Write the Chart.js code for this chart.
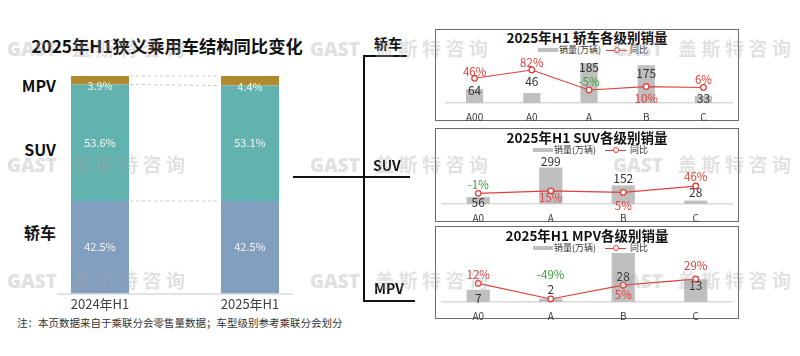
<!DOCTYPE html>
<html><head><meta charset="utf-8">
<script src="https://cdn.jsdelivr.net/npm/chart.js@4/dist/chart.umd.min.js"></script>
<style>
html,body{margin:0;padding:0;}
body{width:800px;height:356px;background:#fff;position:relative;overflow:hidden;font-family:"Noto Sans CJK SC","Noto Sans",sans-serif;color:#222;}
.abs{position:absolute;}
canvas{position:absolute;}
.box{position:absolute;box-sizing:border-box;border:1.5px solid #6b6b6b;background:#fff;}
.ptitle{position:absolute;left:435px;width:304px;text-align:center;font-weight:bold;font-size:13.5px;line-height:20px;color:#111;white-space:nowrap;}
.leg{position:absolute;font-size:9px;line-height:10px;color:#333;white-space:nowrap;}
.sw1{position:absolute;width:20px;height:4px;background:#BFBFBF;}
.sw2{position:absolute;width:21px;height:1.2px;background:#E0403A;}
.sw2 i{position:absolute;left:7.5px;top:-2.4px;width:4px;height:4px;border:1.2px solid #E0403A;border-radius:50%;background:#fff;}
.bl{position:absolute;background:#111;}
.blab{position:absolute;font-weight:bold;font-size:14px;line-height:18px;color:#111;}
.clab{position:absolute;width:60px;left:-4px;text-align:right;font-weight:bold;font-size:16px;line-height:20px;color:#111;}
.wm{position:absolute;z-index:50;pointer-events:none;color:rgba(165,165,165,0.33);font-weight:bold;font-size:19px;line-height:24px;white-space:nowrap;}
.wm b{font-family:"Open Sans","Noto Sans",sans-serif;margin-right:15px;}
.wm span{letter-spacing:4.5px;}
</style></head><body>

<div class="abs" style="left:0;top:35px;width:334px;text-align:center;font-weight:bold;font-size:17.3px;line-height:22px;color:#111;white-space:nowrap;">2025年H1狭义乘用车结构同比变化</div>
<div class="clab" style="top:75px;">MPV</div>
<div class="clab" style="top:139px;">SUV</div>
<div class="clab" style="top:222px;">轿车</div>
<canvas id="left" width="340" height="255" style="left:0;top:60px;"></canvas>
<div class="abs" style="left:17px;top:315px;font-size:10.5px;line-height:15px;color:#333;white-space:nowrap;">注：本页数据来自于乘联分会零售量数据；车型级别参考乘联分会划分</div>

<div class="bl" style="left:363px;top:55px;width:2px;height:247px;"></div>
<div class="bl" style="left:363px;top:55px;width:44px;height:2px;"></div>
<div class="bl" style="left:293px;top:176px;width:117px;height:2px;"></div>
<div class="bl" style="left:363px;top:300px;width:52px;height:2px;"></div>
<div class="blab" style="left:374px;top:34px;">轿车</div>
<div class="blab" style="left:373px;top:156px;">SUV</div>
<div class="blab" style="left:374px;top:279px;">MPV</div>

<div class="box" style="left:435px;top:29px;width:304px;height:92px;"></div>
<div class="box" style="left:435px;top:128px;width:304px;height:94px;"></div>
<div class="box" style="left:435px;top:226px;width:304px;height:93px;"></div>

<div class="ptitle" style="top:27px;">2025年H1 轿车各级别销量</div>
<div class="ptitle" style="top:127px;">2025年H1 SUV各级别销量</div>
<div class="ptitle" style="top:225px;">2025年H1 MPV各级别销量</div>

<div class="sw1" style="left:538px;top:48px;"></div><div class="leg" style="left:559px;top:45px;">销量(万辆)</div>
<div class="sw2" style="left:606px;top:49.5px;"><i></i></div><div class="leg" style="left:630px;top:45px;">同比</div>
<div class="sw1" style="left:533px;top:148px;"></div><div class="leg" style="left:554px;top:145px;">销量(万辆)</div>
<div class="sw2" style="left:605px;top:149.5px;"><i></i></div><div class="leg" style="left:630px;top:145px;">同比</div>
<div class="sw1" style="left:533px;top:246px;"></div><div class="leg" style="left:554px;top:243px;">销量(万辆)</div>
<div class="sw2" style="left:605px;top:247.5px;"><i></i></div><div class="leg" style="left:630px;top:243px;">同比</div>

<canvas id="p1" width="302" height="74" style="left:436px;top:57px;"></canvas>
<canvas id="p2" width="302" height="75" style="left:436px;top:157px;"></canvas>
<canvas id="p3" width="302" height="80" style="left:436px;top:250px;"></canvas>

<div class="wm" style="left:7px;top:36px;"><b>GAST</b><span>盖斯特咨询</span></div>
<div class="wm" style="left:310px;top:36px;"><b>GAST</b><span>盖斯特咨询</span></div>
<div class="wm" style="left:613px;top:36px;"><b>GAST</b><span>盖斯特咨询</span></div>
<div class="wm" style="left:7px;top:152px;"><b>GAST</b><span>盖斯特咨询</span></div>
<div class="wm" style="left:310px;top:152px;"><b>GAST</b><span>盖斯特咨询</span></div>
<div class="wm" style="left:613px;top:152px;"><b>GAST</b><span>盖斯特咨询</span></div>
<div class="wm" style="left:7px;top:268px;"><b>GAST</b><span>盖斯特咨询</span></div>
<div class="wm" style="left:310px;top:268px;"><b>GAST</b><span>盖斯特咨询</span></div>
<div class="wm" style="left:613px;top:268px;"><b>GAST</b><span>盖斯特咨询</span></div>

<script>
// ---- data ----
const structCategories = ['2024年H1', '2025年H1'];
const sedanShare = [42.5, 42.5];
const suvShare = [53.6, 53.1];
const mpvShare = [3.9, 4.4];

const sedanClasses = ['A00', 'A0', 'A', 'B', 'C'];
const sedanSales = [64, 46, 185, 175, 33];
const sedanYoY = [46, 82, -5, 10, 6];

const suvClasses = ['A0', 'A', 'B', 'C'];
const suvSales = [56, 299, 152, 28];
const suvYoY = [-1, 15, 5, 46];

const mpvClasses = ['A0', 'A', 'B', 'C'];
const mpvSales = [7, 2, 28, 13];
const mpvYoY = [12, -49, 5, 29];

// ---- styles ----
const FONT = '"Noto Sans CJK SC", "Noto Sans", sans-serif';
const RED = '#E0403A';
const GREEN = '#3A9E3A';
const GRAY = '#BFBFBF';

// ---- left structure chart ----
const structPlugin = {
  id: 'structDeco',
  beforeDatasetsDraw(chart) {
    const ctx = chart.ctx;
    const area = chart.chartArea;
    ctx.save();
    ctx.strokeStyle = '#C8C8C8';
    ctx.lineWidth = 1;
    ctx.setLineDash([3, 3]);
    chart.data.datasets.forEach((ds, i) => {
      const m = chart.getDatasetMeta(i).data;
      const a = m[0], b = m[1];
      ctx.beginPath();
      ctx.moveTo(a.x + a.width / 2 + 1, a.y);
      ctx.lineTo(b.x - b.width / 2 - 1, b.y);
      ctx.stroke();
    });
    ctx.setLineDash([]);
    const m0 = chart.getDatasetMeta(0).data;
    ctx.strokeStyle = '#D9D9D9';
    ctx.lineWidth = 1.5;
    ctx.beginPath();
    ctx.moveTo(m0[0].x - m0[0].width / 2 - 14, area.bottom + 0.5);
    ctx.lineTo(m0[1].x + m0[1].width / 2 + 14, area.bottom + 0.5);
    ctx.stroke();
    ctx.restore();
  },
  afterDatasetsDraw(chart) {
    const ctx = chart.ctx;
    ctx.save();
    ctx.font = '11px ' + FONT;
    ctx.fillStyle = '#F4F4F4';
    ctx.textAlign = 'center';
    ctx.textBaseline = 'middle';
    const n = chart.data.datasets.length;
    chart.data.datasets.forEach((ds, i) => {
      chart.getDatasetMeta(i).data.forEach((el, j) => {
        const cy = (el.y + el.base) / 2 + (i === n - 1 ? 6 : 0);
        ctx.fillText(ds.data[j].toFixed(1) + '%', el.x, cy);
      });
    });
    ctx.restore();
  }
};

new Chart(document.getElementById('left'), {
  type: 'bar',
  data: {
    labels: structCategories,
    datasets: [
      { label: '轿车', data: sedanShare, backgroundColor: '#839FC0' },
      { label: 'SUV', data: suvShare, backgroundColor: '#62B3AF' },
      { label: 'MPV', data: mpvShare, backgroundColor: '#B08A2E' }
    ]
  },
  options: {
    responsive: false, animation: false,
    layout: { autoPadding: false, padding: { left: 25, right: 15, top: 16, bottom: 0 } },
    datasets: { bar: { categoryPercentage: 1, barPercentage: 0.387 } },
    plugins: { legend: { display: false }, tooltip: { enabled: false } },
    scales: {
      x: { stacked: true, grid: { display: false, drawTicks: false, tickLength: 0 }, border: { display: false },
           ticks: { font: { size: 13, family: FONT }, color: '#404040', padding: 3 } },
      y: { stacked: true, display: false, min: 0, max: 100 }
    }
  },
  plugins: [structPlugin]
});

// ---- right panels ----
function labelPlugin(barOff, lineOff) {
  return {
    id: 'panelLabels',
    afterDatasetsDraw(chart) {
      const ctx = chart.ctx;
      const yoy = chart.data.datasets[0].data;
      const sales = chart.data.datasets[1].data;
      ctx.save();
      ctx.textAlign = 'center';
      ctx.textBaseline = 'middle';
      ctx.font = '12px ' + FONT;
      ctx.fillStyle = '#333';
      chart.getDatasetMeta(1).data.forEach((el, i) => {
        ctx.fillText(String(sales[i]), el.x, el.y + barOff[i]);
      });
      ctx.font = '11.5px ' + FONT;
      chart.getDatasetMeta(0).data.forEach((el, i) => {
        ctx.fillStyle = yoy[i] < 0 ? GREEN : RED;
        ctx.fillText(yoy[i] + '%', el.x, el.y + lineOff[i]);
      });
      ctx.restore();
    }
  };
}

function makePanel(id, cats, sales, yoy, cfg) {
  new Chart(document.getElementById(id), {
    data: {
      labels: cats,
      datasets: [
        { type: 'line', label: '同比', data: yoy, yAxisID: 'y1', borderColor: RED, borderWidth: 1.2,
          pointRadius: 2.8, pointBackgroundColor: '#fff', pointBorderColor: RED, pointBorderWidth: 1.3,
          tension: 0, order: 1, clip: false },
        { type: 'bar', label: '销量(万辆)', data: sales, yAxisID: 'y', backgroundColor: GRAY,
          categoryPercentage: 1, barPercentage: cfg.barPct, order: 2, clip: false }
      ]
    },
    options: {
      responsive: false, animation: false,
      layout: { autoPadding: false, padding: { left: cfg.padL, right: cfg.padR, top: 0, bottom: 0 } },
      plugins: { legend: { display: false }, tooltip: { enabled: false } },
      scales: {
        x: { grid: { display: false, drawTicks: false, tickLength: 0 }, border: { display: true, color: '#D9D9D9', width: 1.5 },
             ticks: { font: { size: 10, family: FONT }, color: '#404040', padding: 8 } },
        y: { display: false, min: 0, max: cfg.barMax },
        y1: { display: false, min: cfg.lineMin, max: cfg.lineMax }
      }
    },
    plugins: [labelPlugin(cfg.barOff, cfg.lineOff)]
  });
}

makePanel('p1', sedanClasses, sedanSales, sedanYoY, {
  padL: 10, padR: 6, barPct: 0.3, barMax: 213, lineMin: -61.5, lineMax: 138.5,
  barOff: [1, -12, 4, 8, 3], lineOff: [-7, -7, -8, 12, -8]
});
makePanel('p2', suvClasses, suvSales, suvYoY, {
  padL: 6, padR: 6, barPct: 0.32, barMax: 385, lineMin: -69.7, lineMax: 233.5,
  barOff: [5, -6, -7, -8], lineOff: [-9, 7, 13, -9]
});
makePanel('p3', mpvClasses, mpvSales, mpvYoY, {
  padL: 6, padR: 6, barPct: 0.32, barMax: 29.7, lineMin: -60.7, lineMax: 142.4,
  barOff: [9, -9, 23, 6], lineOff: [-9, -24, 9, -13]
});
</script>
</body></html>
